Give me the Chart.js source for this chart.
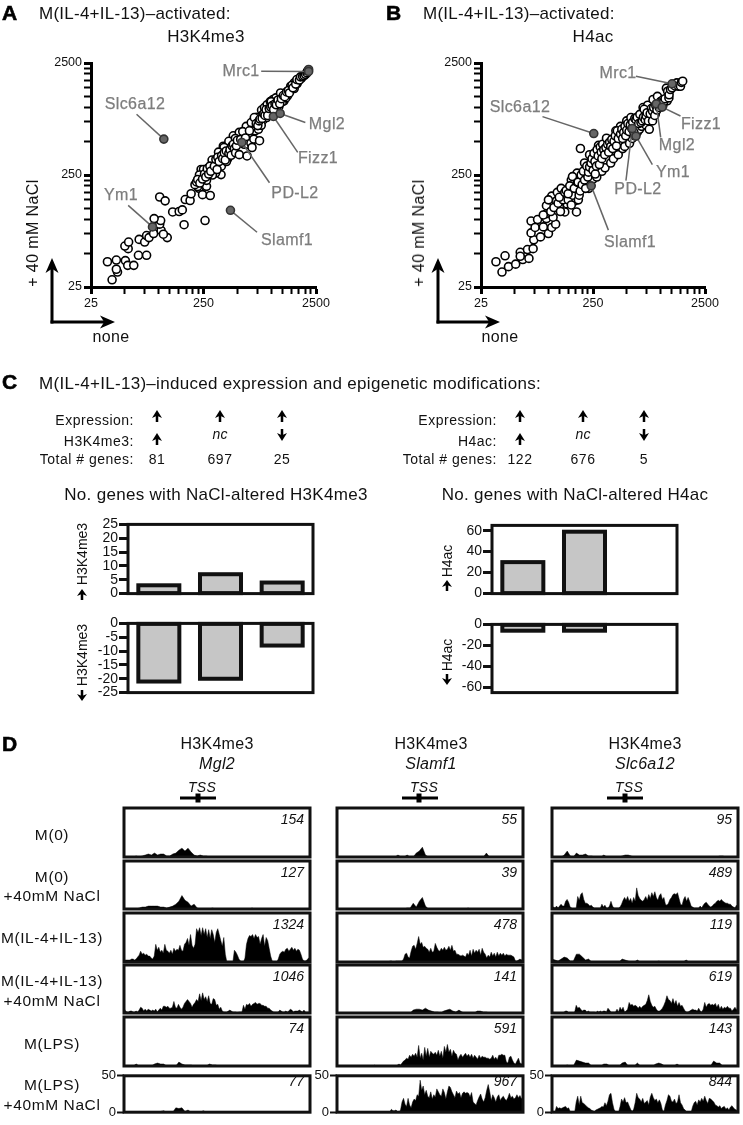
<!DOCTYPE html>
<html>
<head>
<meta charset="utf-8">
<title>NaCl epigenetic figure</title>
<script src="https://cdn.jsdelivr.net/npm/chart.js@4/dist/chart.umd.min.js"></script>
<style>
  html, body { margin: 0; padding: 0; background: #fff; }
  #page { position: relative; width: 743px; height: 1125px; overflow: hidden; font-family: "Liberation Sans", Arial, sans-serif; color: #111; }
  #page canvas { position: absolute; }
  .txt { position: absolute; white-space: nowrap; line-height: 1; }
</style>
</head>
<body>
<div id="page"></div>
<script>
// --- scatter data, [none, +40 mM NaCl] ---
const logTicks = [25, 50, 75, 100, 125, 150, 175, 200, 225, 250, 500, 750, 1000, 1250, 1500, 1750, 2000, 2250, 2500];
const logMajor = [25, 250, 2500];

const genesA = [
  [38.5,29],[43,34],[42,36],[35,42],[42,43.5],[50.5,43],[53,39],[60,39],[66,48],[78,48],[53.5,55],[50,58],[54,63],[67,66.5],[75,63],[78,72],[82,69],[90,75],[105,80],[119,69],[110,74],[102,91],[104,98],[91,102],[102,159],[114,147],[133,117],[152,118],[162,122],[168,90],[258,98],[172,151],[190,148],[194,170],[228,190],[245,167],[287,164],[266,198],[217,210],[222,197],[266,224],[238,280],[280,255],[304,320],[358,252],[298,340],[348,300],[410,350],[375,452],
  [560,520],[600,680],[640,560],[680,660],[720,620],[750,820],[770,640],[800,700],[820,950],[850,780],[870,1000],[920,1060],[940,900],[980,1130],[1040,1180],[1060,920],[1100,1220],[1170,1020],[1210,1350],[1300,1150],[1400,1280],[1500,1450],[1600,1480],[1700,1640],[460,560],[520,600],[420,500],[480,530],[380,440],[340,400],[360,300],[320,260],[300,250],[400,330],[250,280],[230,250],
  [210,205],[217,217],[222,228],[232,212],[245,230],[255,255],[262,240],[270,285],[278,255],[285,300],[290,270],[312,300],[322,345],[330,280],[335,360],[344,330],[362,372],[370,350],[382,395],[390,340],[398,410],[420,390],[430,420],[440,375],[448,455],[460,470],[470,430],[482,395],[490,455],[500,510],[520,380],[535,520],[558,610],[575,470],[590,535],[610,370],[620,470],[640,620],[660,480],[675,440],[700,523],[787,506],[664,735],[707,815],[736,720],[845,871],[910,815],[815,695],[1000,900],[1000,1130],[1120,1000],[1260,1130],[1350,1220],[1490,1550],[1600,1660],[1720,1720],[1850,1820],
  [760,690],[780,760],[795,790],[830,800],[860,880],[880,850],[900,960],[930,850],[960,980],[990,1010],[1020,1040],[1050,960],[1080,1080],[1110,1060],[1150,1170],[1190,1080],[1230,1200],[1280,1280],[1320,1250],[1370,1380],[1420,1420],[1450,1350],[1530,1580],[1560,1500],[1650,1620],[1690,1780],[1780,1760],[1820,1880],[1900,1900],[1960,1930],[2020,1980],[2080,2040],[2100,2120]
];
const markedA = [[2150,2190],[2150,2100],[111,523],[88,86],[548,488],[1045,833],[1200,886],[434,121]];
const leadersA = [
  [[814,2110],[2150,2100]], [[63.5,871],[111,523]], [[53.5,134],[88,86]], [[965,213],[548,488]],
  [[1720,398],[1045,833]], [[2010,735],[1200,886]], [[748,77],[434,121]]
];

const genesB = [
  [34,42],[41,47.5],[38.5,34],[44,38],[51,40],[59,44],[56,51],[56,47],[67,45],[65,54],[73,55],[74,66],[70,76],[70,97],[80,100],[76,85],[90,86],[100,75],[107,85],[116,91],[96,102],[96,113],[96,133],[107,162],[118,147],[125,130],[140,117],[147,138],[178,117],[172,147],
  [210,320],[230,190],[250,230],[270,240],[280,460],[300,270],[320,290],[340,510],[360,320],[380,350],[400,620],[420,380],[440,680],[460,430],[480,450],[500,760],[530,480],[560,530],[590,560],[620,600],[650,640],[680,680],[700,1000],[740,700],[770,1050],[790,760],[820,800],[860,1180],[900,880],[940,1260],[1000,1020],[1050,1040],[1150,1150],[120,175],[130,190],[160,225],[180,260],[100,150],[110,105],[85,70],[90,110],
  [105,118],[112,128],[122,140],[128,118],[135,150],[125,158],[150,150],[160,135],[140,175],[165,165],[185,150],[195,200],
  [144,182],[150,170],[155,200],[164,242],[170,190],[182,215],[184,216],[188,165],[192,180],[193,431],[196,250],[200,205],[205,270],[210,225],[215,190],[220,300],[225,240],[228,265],[233,294],[233,379],[240,320],[245,350],[250,275],[255,390],[260,330],[262,255],[268,300],[272,420],[278,370],[285,310],[290,445],[296,400],[300,350],[305,470],[312,420],[318,380],[330,532],[326,440],[338,470],[345,400],[352,490],[360,450],[368,520],[375,430],[385,500],[395,560],[405,455],[430,590],[412,620],[420,530],[440,580],[452,640],[460,530],[470,600],[482,680],[490,560],[500,630],[512,720],[525,610],[538,700],[545,815],[555,650],[565,740],[580,600],[590,800],[605,780],[620,820],[640,720],[655,870],[670,735],[690,760],
  [705,820],[715,965],[730,780],[745,845],[760,900],[780,760],[795,640],[810,880],[830,980],[850,760],[850,930],[870,1000],[890,850],[910,1040],[930,950],[960,1080],[975,1000],[1000,1130],[1020,1050],[1050,1170],[1070,1130],[1100,1200],[1130,1490],[1160,1400],[1190,1220],[1195,1300],[1230,1450],[1270,1500],[1300,1615],[1350,1560],[1400,1660],[1450,1550],[1510,1550],[1540,1680],[1580,1720]
];
const markedB = [[1270,1630],[254,586],[918,1080],[1037,1010],[605,556],[560,650],[241,200]];
const leadersB = [
  [[604,1905],[1270,1630]], [[88.5,830],[254,586]], [[1510,841],[1037,1010]], [[1005,541],[918,1080]],
  [[847,310],[605,556]], [[492,223],[560,650]], [[343,80.5],[241,200]]
];

// --- bar data ---
const barCategories = ['up', 'nc', 'down'];
const h3UpValues = [3, 7, 4];
const h3DownValues = [-21, -20, -8];
const h4UpValues = [30, 59, 0];
const h4DownValues = [-6, -6, 0];
const h3UpTicks = [0, 5, 10, 15, 20, 25];
const h3DownTicks = [-25, -20, -15, -10, -5, 0];
const h4UpTicks = [0, 20, 40, 60];
const h4DownTicks = [-60, -40, -20, 0];

// --- browser tracks, height per bin (quiet tracks coarse, busy tracks fine) ---
const trackBins = ['0','1','2','3','4','5','6','7','8','9','10','11','12','13','14','15','16','17','18','19','20','21','22','23','24','25','26','27','28','29','30','31','32','33','34','35','36','37','38','39','40','41','42','43','44','45','46','47','48','49','50','51','52','53','54','55','56','57','58','59','60','61'];
const fineBins = [];
for (let i = 0; i < 124; i++) fineBins.push(String(i));
const trackTicks = [0, 50];

const mgl2M0 = [0,0,0,0,1,0,1,2,3,2,4,2,3,3,1,1,3,4,7,9,6,9,5,2,1,2,1,1,0];
const mgl2M0Na = [0,0,0,0,0,1,2,2,3,3,3,3,2,2,1,2,3,5,8,14,9,7,3,5,1,0,0,0,0,1,0,0,0,0,0,0,0,0,0,0,0,0,1,0];
const mgl2Il4 = [1,2,2,2,2,3,3,2, 3,5,7,11,8,9,7,8,6,6,4,3, 6,18,12,15,10,12,9,18,12,11,9,12,8,14, 11,13,12,17,12,11,18,20,24,17,28,17,14,18, 34,30,35,27,35,28,34,25,33,24,33,28,20,30,34,28,22,16, 25,8,0,0,0,0,0,12,10,7, 3,1,0,0,4,18,24,27, 26,28,24,28,25,26,18,24,28,16,25,22,14,6,1,0,0,0, 3,8,10,11,10,13,14,11,13,15,12,14,11,13,12,8,3,1,1,2,4,3];
const mgl2Il4Na = [5,2,1,1,2,2,1,1, 2,1,3,6,5,2,4,2,4,3,2,3, 2,4,1,3,5,3,7,7,6,7,5,5,6,12, 6,5,9,6,4,6,10,12,14,12,10,6,9,11, 14,12,20,13,21,14,17,12,18,10,9,15,14,8,9,4,6,2, 1,1,1,2,3,2,1,1,1,0, 1,1,1,8,4,9,8,10, 7,9,10,11,9,10,10,8,8,7,7,5,5,3,2,1,1,1, 1,3,2,1,1,2,1,2,4,3,1,2,2,2,3,2,1,3,1,1,1,1];
const mgl2Lps = [0,0,0,0,2,0,0,0,0,0,2,3,2,2,0,0,0,0,4,2,1,1,1,0,0,0,0,0,2,1,1,0];
const mgl2LpsNa = [0,0,0,0,0,1,0,0,0,0,0,0,1,2,0,0,0,6,5,6,1,3,0,0,0,0,2,0];

const slamf1M0 = [0,0,0,0,0,0,0,0,0,0,0,0,0,0,0,0,0,0,0,0,2,0,0,2,0,0,4,6,10,2,0,0,0,0,0,0,0,0,0,0,0,0,0,0,0,0,0,0,0,4,0];
const slamf1M0Na = [0,0,0,0,0,0,0,0,0,0,0,0,0,0,0,0,0,0,0,0,0,0,0,1,1,6,2,8,12,3,0,0,0,0,0,0,0,0,0,0,0,0,0,1,0];
const slamf1Il4 = [0,0,0,0,0,0,0,0,0,0,0,0,0,0,0,0,0,0,0,0,0,0,0,0,0,0,0,0,0,0,0,0,0,0, 0,1,1,0,0,1,1,1,1,1, 3,8,9,5,4,11,16,17,13,19,26,18, 20,15,16,14,13,10,14,10,11,19,15,12,11,14,12,15,12,13,16,12, 17,11,12,8,8,7,6,7,6,5, 9,7,12,6,13,9,12,10,13,7,14,10,8,4,7,5,10,6,9,5, 10,6,9,7,9,6,8,7,7,7,6,5,1,1,2,3,2,4];
const slamf1Il4Na = [0,0,0,0,0,0,0,0,0,0,0,0,0,0,0,0,0,0,0,0,0,0,0,0,0,3,4,4,3,5,3,2,1,1,0,2,3,4,2,1,3,1,0,0,0,0,2,2,1,1,0];
const slamf1Lps = [0,0,0,0,0,0,0,0,0,0,0,0,0,0,0,0,0,0,0,0,0,0,0,0,0, 1, 0,0,0,0,0,0,0,0,0,0,0,0,0,0, 1,2,1,3,5,6,8,7,11,9,12,10,13,9, 21,8,13,6,19,10,18,9,15,13,12,14,11,16,10,15,8,20,14,22, 14,17,10,16,13,12,6,10,12,9,11,13,10,12, 9,12,8,11,9,7,11,8,10,9,9,8,8,7,8,11,7,9,6,11,11,12,11,11,4,3,9,10,6,3,2,5,8,3,2,4];
const slamf1LpsNa = [0,0,0,0,0,0,0,0,0,0,0,0,0,0,0,0,0,0,0,0,0,0,0,0,0,0,0,0,0,0,0,0,0,0,0, 1,4,2,2,3,1,0,3, 14,19,11,8,19,10,6,14,18,16,24,22, 44,30,36,24,30,22,20,28,18,24, 21,32,28,24,22,32,27,18,28,36,34,28,24,20,29,25, 27,20,26,28,26,27,26,21,27,14,12,10,16,21,25,18, 14,20,30,38,28,16,24,20,14,21,24,16, 20,22,18,16,20,26,20,22,18,20,24,20,23,18,22];

const slc6a12M0 = [0,0,0,0,2,6,1,0,4,2,2,3,1,1,0,0,0,2,0,0,0,0,0,1,2,2,1,0,0,0,0,0,0,0,0,0,0,0,0,0,0,0,0,0,0,0,0,0,0,0,0,0,0,0,0,1,1,0];
const slc6a12M0Na = [1,2,1,3,1,3,5,3,3, 8,10,7,2,1, 0,0,1, 13,9,15,17,10,6,6,5,3,4, 2,1,1,1,1,1, 5,2,4,1,1,3,8,3,1,1,1,1, 2,5,9,12,9,13,8,11,6,12,8, 22,14,11,9,8,10,13,9,15,11,17, 13,18,12,9,14,16,10,12,5,4,6,10,12, 15,16,15,17,11,5,4,10,13,8,12,8,3, 2,1,1,1,1,3,1,4,6,7,5,3, 2,3,5,6,8,9,8,10,8,7,6,6,5,5,3,2,1,4,2];
const slc6a12Il4 = [3,2,1,3,5,4,1,1,8,8,5,2,3,0,0,0,0,0,0,0,0,0,0,3,2,1,0,0,2,0,0,0,0,0,0,1,0,0,0,0,0,0,0,0,2,0];
const slc6a12Il4Na = [0,0,0,0,0,0,0,0, 1,2,2,0,0, 0,0,1, 8,5,6,4,2, 3,3,1,2,1,1,1,1, 0,2,1,2,1,2,2,1, 5,3,1,1,1, 1,4,1,6,3,6,1,2,4, 11,8,9,7,8,7,5,7,5,7,8,9, 13,19,12,8,6,7,4,2,2,3, 5,8,12,18,14,13,10,15,9,13,7,11, 7,8,5,2,1,1,2,3,4,3,3,2,5, 2,1,4,11,6,9,10,8,9,8,10,6,9,4,7,4,6,5,7,5,5,2,4,6,3,8];
const slc6a12Lps = [0,0,0,0,0,1,0,0,6,5,4,3,3,0,0,0,0,2,2,0,0,0,0,3,4,0,0,0,3,0,0,0,0,0,2,3,2,0,0,0,0,2,0,0,0,0,0,0,0,0,0,0,0,5,3,3,0];
const slc6a12LpsNa = [0,1,1, 8,5,6,5,6,7,8,5,6,1, 0,0,0, 14,22,10,22,13,12,10,8,6,5,3,2,1, 3,4,5,6,8,7,13,9, 15,24,26,13,4,1, 1,0,8,18,14,20,13, 14,9,4,1,4, 13,26,20,18,14,19,12,14, 16,10,21,26,20,16,18,13,17,12, 3,1,10,16,24,22,15,14,18,12, 14,24,13,10,5,3,1,1,0, 0,8,13,15,10,17,14,19,15,22,16,12,19,18,16,14,10,9,7,9,5,7,8,4,6,3,7,9,6,4,3,1];

const mgl2Peaks = ['154', '127', '1324', '1046', '74', '77'];
const slamf1Peaks = ['55', '39', '478', '141', '591', '967'];
const slc6a12Peaks = ['95', '489', '119', '619', '143', '844'];

// --- layout ---
const page = document.getElementById('page');
const grey = '#7d7d7d';

Chart.defaults.font.family = '"Liberation Sans", Arial, sans-serif';
Chart.defaults.color = '#111';
Chart.defaults.animation = false;
Chart.defaults.plugins.legend.display = false;
Chart.defaults.plugins.tooltip.enabled = false;

function addText(str, x, y, opts = {}) {
    const el = document.createElement('div');
    el.className = 'txt';
    el.textContent = str;
    el.style.left = x + 'px';
    el.style.top = y + 'px';
    el.style.fontSize = (opts.size || 14) + 'px';
    if (opts.color) el.style.color = opts.color;
    if (opts.italic) el.style.fontStyle = 'italic';
    if (opts.bold) el.style.fontWeight = 'bold';
    if (opts.spacing) el.style.letterSpacing = opts.spacing + 'px';
    if (opts.stroke) el.style.webkitTextStroke = opts.stroke + 'px ' + (opts.color || '#111');
    const ax = opts.align === 'left' ? '0' : opts.align === 'right' ? '-100%' : '-50%';
    el.style.transform = 'translate(' + ax + ',-50%)' + (opts.rotate ? ' rotate(' + opts.rotate + 'deg)' : '');
    page.appendChild(el);
}

const framePlugin = {
    id: 'frame',
    afterDraw(chart) {
        const a = chart.chartArea, ctx = chart.ctx;
        ctx.save();
        ctx.lineWidth = 3;
        ctx.strokeStyle = '#111';
        ctx.strokeRect(a.left, a.top, a.right - a.left, a.bottom - a.top);
        ctx.restore();
    }
};

// chart.js keeps bar borders inside the bar, the figure has them centred on the edge
const barOutline = {
    id: 'barOutline',
    afterDatasetsDraw(chart) {
        const ctx = chart.ctx;
        ctx.save();
        ctx.lineWidth = 4;
        ctx.strokeStyle = '#111';
        chart.getDatasetMeta(0).data.forEach((bar, i) => {
            if (chart.data.datasets[0].data[i] === 0) return;
            ctx.strokeRect(bar.x - bar.width / 2, bar.y, bar.width, bar.base - bar.y);
        });
        ctx.restore();
    }
};

// box = frame corners, m = margins around them for axes
function place(cfg, box, m) {
    const canvas = document.createElement('canvas');
    canvas.width = box.x1 - box.x0 + m.l + m.r;
    canvas.height = box.y1 - box.y0 + m.t + m.b;
    canvas.style.left = (box.x0 - m.l) + 'px';
    canvas.style.top = (box.y0 - m.t) + 'px';
    page.appendChild(canvas);
    cfg.options.responsive = false;
    cfg.options.layout = { padding: { left: 0, right: m.r, top: m.t, bottom: 0 } };
    cfg.options.scales.x.afterFit = s => { s.height = m.b; };
    cfg.options.scales.y.afterFit = s => { s.width = m.l; };
    return new Chart(canvas, cfg);
}

function logAxis(position) {
    return {
        type: 'logarithmic',
        position: position,
        min: 25,
        max: 2500,
        afterBuildTicks: axis => { axis.ticks = logTicks.map(v => ({ value: v })); },
        border: { color: '#000', width: 3 },
        grid: {
            drawOnChartArea: false,
            color: '#000',
            tickColor: '#000',
            tickWidth: c => logMajor.includes(c.tick.value) ? 3 : 2,
            tickLength: 7
        },
        ticks: {
            autoSkip: false,
            maxRotation: 0,
            padding: 2,
            font: { size: 12.5 },
            callback: v => logMajor.includes(v) ? String(v) : ''
        }
    };
}

function scatterChart(box, genes, marked, leaders) {
    const datasets = [{
        data: marked.map(p => ({ x: p[0], y: p[1] })),
        pointRadius: 4, borderWidth: 1.6, borderColor: '#333', backgroundColor: '#666', order: 0, clip: false
    }, {
        data: genes.map(p => ({ x: p[0], y: p[1] })),
        pointRadius: 4, borderWidth: 1.6, borderColor: '#000', backgroundColor: '#fff', order: 2, clip: false
    }];
    leaders.forEach(l => {
        datasets.push({
            type: 'line',
            data: l.map(p => ({ x: p[0], y: p[1] })),
            showLine: true, pointRadius: 0, borderWidth: 1.5, borderColor: '#666', order: 1
        });
    });
    place({
        type: 'scatter',
        data: { datasets: datasets },
        options: { scales: { x: logAxis('bottom'), y: logAxis('left') } }
    }, box, { l: 50, r: 24, t: 12, b: 30 });
}

function barChart(box, values, tickList, min, max) {
    place({
        type: 'bar',
        data: {
            labels: barCategories,
            datasets: [{
                data: values,
                backgroundColor: '#c6c6c6',
                borderWidth: 0,
                barPercentage: 0.665,
                categoryPercentage: 1
            }]
        },
        plugins: [barOutline, framePlugin],
        options: {
            scales: {
                x: { grid: { display: false }, border: { display: false }, ticks: { display: false } },
                y: {
                    min: min,
                    max: max,
                    afterBuildTicks: axis => { axis.ticks = tickList.map(v => ({ value: v })); },
                    border: { display: false },
                    grid: { drawOnChartArea: false, tickColor: '#111', tickWidth: 3, tickLength: 9 },
                    ticks: { autoSkip: false, padding: 1, font: { size: 14 } }
                }
            }
        }
    }, box, { l: 36, r: 3, t: 3, b: 3 });
}

function trackChart(box, values, withAxis) {
    place({
        type: 'line',
        data: {
            labels: values.length > 62 ? fineBins : trackBins,
            datasets: [{
                data: values,
                fill: 'origin',
                backgroundColor: '#000',
                borderColor: '#000',
                borderWidth: 0.5,
                pointRadius: 0,
                tension: 0
            }]
        },
        plugins: [framePlugin],
        options: {
            scales: {
                x: { offset: false, grid: { display: false }, border: { display: false }, ticks: { display: false } },
                y: {
                    min: 0,
                    max: 50,
                    display: true,
                    afterBuildTicks: axis => { axis.ticks = (withAxis ? trackTicks : []).map(v => ({ value: v })); },
                    border: { display: false },
                    grid: { drawOnChartArea: false, tickColor: '#111', tickWidth: 2, tickLength: 7 },
                    ticks: { autoSkip: false, padding: 1, font: { size: 13 } }
                }
            }
        }
    }, box, { l: 30, r: 3, t: 3, b: 3 });
}

// panels A and B
scatterChart({ x0: 91, y0: 63, x1: 316, y1: 287 }, genesA, markedA, leadersA);
scatterChart({ x0: 481, y0: 63, x1: 705, y1: 287 }, genesB, markedB, leadersB);

// panel C bars
barChart({ x0: 128, y0: 518, x1: 313, y1: 600 }, h3UpValues, h3UpTicks, 0, 25);
barChart({ x0: 128, y0: 617, x1: 313, y1: 699 }, h3DownValues, h3DownTicks, -25, 0);
barChart({ x0: 492, y0: 519, x1: 677, y1: 600 }, h4UpValues, h4UpTicks, 0, 65);
barChart({ x0: 492, y0: 618, x1: 677, y1: 699 }, h4DownValues, h4DownTicks, -65, 0);

// panel D tracks
const rowTops = [808, 861, 913, 965, 1017, 1070];
const rowBottoms = [857, 909, 962, 1013, 1066, 1118];
const columns = [
    { x0: 124, x1: 310, rows: [mgl2M0, mgl2M0Na, mgl2Il4, mgl2Il4Na, mgl2Lps, mgl2LpsNa], peaks: mgl2Peaks },
    { x0: 337, x1: 523, rows: [slamf1M0, slamf1M0Na, slamf1Il4, slamf1Il4Na, slamf1Lps, slamf1LpsNa], peaks: slamf1Peaks },
    { x0: 552, x1: 738, rows: [slc6a12M0, slc6a12M0Na, slc6a12Il4, slc6a12Il4Na, slc6a12Lps, slc6a12LpsNa], peaks: slc6a12Peaks }
];
columns.forEach(col => {
    col.rows.forEach((values, i) => {
        trackChart({ x0: col.x0, y0: rowTops[i], x1: col.x1, y1: rowBottoms[i] }, values, i === 5);
    });
});

// arrows and TSS bars go on one overlay
const overlay = document.createElement('canvas');
overlay.width = 743;
overlay.height = 1125;
overlay.style.left = '0';
overlay.style.top = '0';
page.appendChild(overlay);
const ctx = overlay.getContext('2d');

function arrow(x1, y1, x2, y2, w, headLen, headW) {
    const ang = Math.atan2(y2 - y1, x2 - x1);
    ctx.save();
    ctx.translate(x2, y2);
    ctx.rotate(ang);
    const len = Math.hypot(x2 - x1, y2 - y1);
    ctx.fillStyle = '#000';
    ctx.fillRect(-len, -w / 2, len - headLen * 0.5, w);
    ctx.beginPath();
    ctx.moveTo(0, 0);
    ctx.lineTo(-headLen, -headW / 2);
    ctx.lineTo(-headLen * 0.72, 0);
    ctx.lineTo(-headLen, headW / 2);
    ctx.closePath();
    ctx.fill();
    ctx.restore();
}

// A, B corner axes
arrow(52, 323.5, 52, 258, 3, 15, 13);
arrow(50.5, 322, 115, 322, 3, 15, 13);
arrow(438, 323.5, 438, 258, 3, 15, 13);
arrow(436.5, 322, 500, 322, 3, 15, 13);

// table arrows
[157, 220, 282, 520, 583, 644].forEach(x => arrow(x, 422, x, 410, 2.5, 8, 10));
[157, 520].forEach(x => arrow(x, 445, x, 433, 2.5, 8, 10));
[282, 644].forEach(x => arrow(x, 429, x, 441, 2.5, 8, 10));

// rotated labels' arrows
arrow(82, 600, 82, 589, 2.5, 7, 10);
arrow(82, 690, 82, 701, 2.5, 7, 10);
arrow(447, 591, 447, 580, 2.5, 7, 10);
arrow(447, 674, 447, 685, 2.5, 7, 10);

// TSS bars
[[180, 216, 198], [402, 438, 419], [607, 643, 625]].forEach(b => {
    ctx.fillStyle = '#000';
    ctx.fillRect(b[0], 796.5, b[1] - b[0], 3);
    ctx.fillRect(b[2] - 2.5, 793.5, 5, 9);
});

// --- text ---
const panelLetter = { size: 21, bold: true, align: 'left', stroke: 0.6, color: '#000' };
addText('A', 2, 12, panelLetter);
addText('B', 386, 12, panelLetter);
addText('C', 2, 381, panelLetter);
addText('D', 2, 743, panelLetter);

const titleStyle = { size: 17, align: 'left', spacing: 0.25 };
addText('M(IL-4+IL-13)–activated:', 39, 13, titleStyle);
addText('H3K4me3', 206, 36, { size: 17, spacing: 0.3 });
addText('M(IL-4+IL-13)–activated:', 423, 13, titleStyle);
addText('H4ac', 593, 36, { size: 17, spacing: 0.3 });

addText('+ 40 mM NaCl', 33, 233, { size: 16, rotate: -90, spacing: 0.4 });
addText('+ 40 mM NaCl', 419, 233, { size: 16, rotate: -90, spacing: 0.4 });
addText('none', 111, 337, { size: 16, spacing: 0.4 });
addText('none', 500, 337, { size: 16, spacing: 0.4 });

const geneStyle = { size: 16, color: grey, spacing: 0.4, stroke: 0.25 };
addText('Mrc1', 241, 71, geneStyle);
addText('Slc6a12', 135, 104, geneStyle);
addText('Ym1', 121, 195, geneStyle);
addText('Mgl2', 327, 124, geneStyle);
addText('Fizz1', 318, 158, geneStyle);
addText('PD-L2', 295, 193, geneStyle);
addText('Slamf1', 287, 240, geneStyle);
addText('Mrc1', 618, 73, geneStyle);
addText('Slc6a12', 520, 107, geneStyle);
addText('Fizz1', 701, 124, geneStyle);
addText('Mgl2', 677, 145, geneStyle);
addText('Ym1', 673, 172, geneStyle);
addText('PD-L2', 638, 189, geneStyle);
addText('Slamf1', 630, 242, geneStyle);

addText('M(IL-4+IL-13)–induced expression and epigenetic modifications:', 39, 383, { size: 17, align: 'left', spacing: 0.3 });

const tableStyle = { size: 14, align: 'right', spacing: 0.5 };
addText('Expression:', 134, 420, tableStyle);
addText('H3K4me3:', 134, 441, tableStyle);
addText('Total # genes:', 134, 459, tableStyle);
addText('Expression:', 497, 420, tableStyle);
addText('H4ac:', 497, 441, tableStyle);
addText('Total # genes:', 497, 459, tableStyle);
addText('nc', 220, 434, { size: 14, italic: true });
addText('nc', 583, 434, { size: 14, italic: true });
[['81', 157], ['697', 220], ['25', 282], ['122', 520], ['676', 583], ['5', 644]].forEach(c => {
    addText(c[0], c[1], 459, { size: 14, spacing: 0.5 });
});

addText('No. genes with NaCl-altered H3K4me3', 216, 494, { size: 17, spacing: 0.3 });
addText('No. genes with NaCl-altered H4ac', 575, 494, { size: 17, spacing: 0.3 });

addText('H3K4me3', 82, 554, { size: 14, rotate: -90 });
addText('H3K4me3', 82, 655, { size: 14, rotate: -90 });
addText('H4ac', 447, 561, { size: 14, rotate: -90 });
addText('H4ac', 447, 655, { size: 14, rotate: -90 });

[['Mgl2', 217], ['Slamf1', 431], ['Slc6a12', 645]].forEach(c => {
    addText('H3K4me3', c[1], 744, { size: 16, spacing: 0.3 });
    addText(c[0], c[1], 764, { size: 16, italic: true, spacing: 0.3 });
});
[202, 424, 629].forEach(x => addText('TSS', x, 787, { size: 14, italic: true, spacing: 0.3 }));

const rowStyle = { size: 15.5, spacing: 0.6 };
addText('M(0)', 52, 835, rowStyle);
addText('M(0)', 52, 877, rowStyle);
addText('+40mM NaCl', 52, 896, rowStyle);
addText('M(IL-4+IL-13)', 52, 938, rowStyle);
addText('M(IL-4+IL-13)', 52, 981, rowStyle);
addText('+40mM NaCl', 52, 1001, rowStyle);
addText('M(LPS)', 52, 1044, rowStyle);
addText('M(LPS)', 52, 1085, rowStyle);
addText('+40mM NaCl', 52, 1105, rowStyle);

columns.forEach(col => {
    col.peaks.forEach((p, i) => {
        addText(p, col.x1 - 6, rowTops[i] + 11, { size: 14, italic: true, align: 'right' });
    });
});
</script>
</body>
</html>
